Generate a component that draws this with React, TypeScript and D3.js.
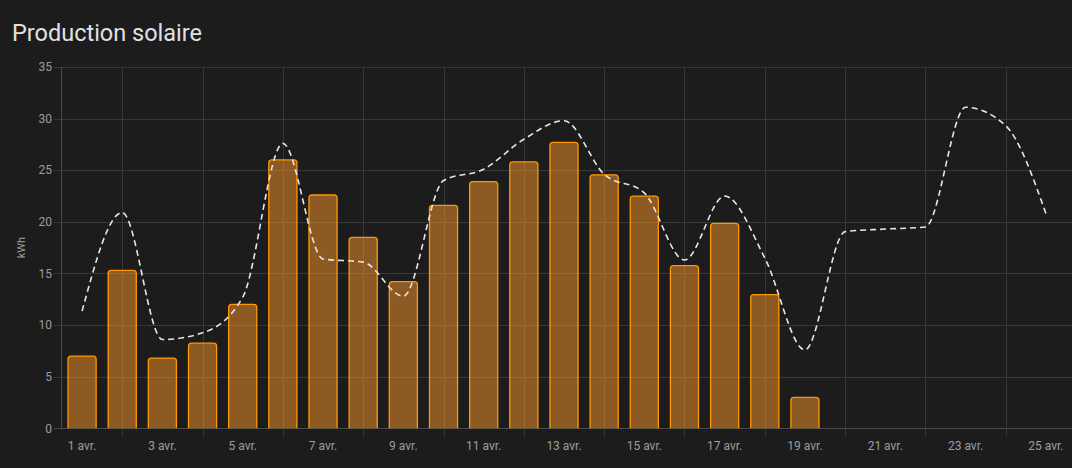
import React, { useEffect, useRef } from "react";
import * as d3 from "d3";

const days: number[] = Array.from({ length: 25 }, (_, i) => i + 1);
const production: number[] = [7.0, 15.3, 6.8, 8.25, 12.0, 26.0, 22.6, 18.5, 14.2, 21.6, 23.9, 25.8, 27.7, 24.55, 22.5, 15.75, 19.85, 12.95, 3.0];
const forecast: number[] = [11.35, 20.9, 8.6, 9.25, 12.7, 27.6, 16.4, 16.1, 12.8, 24.0, 25.1, 28.0, 29.8, 24.6, 22.8, 16.3, 22.5, 16.5, 7.6, 19.05, 19.3, 19.5, 31.1, 29.3, 20.8];
const yTicks: number[] = [0, 5, 10, 15, 20, 25, 30, 35];
const xLabelDays: number[] = [1, 3, 5, 7, 9, 11, 13, 15, 17, 19, 21, 23, 25];
const xGridDays: number[] = [2, 4, 6, 8, 10, 12, 14, 16, 18, 20, 22, 24];
const title = "Production solaire";
const yLabel = "kWh";

const W = 1072;
const H = 468;
const M = { left: 62, right: 1066, top: 67, bottom: 428.3 };

export default function App() {
  const ref = useRef<SVGSVGElement | null>(null);
  useEffect(() => {
    const svg = d3.select(ref.current);
    svg.selectAll("*").remove();
    const font = "Roboto, 'Noto Sans', sans-serif";
    const x = d3.scaleLinear().domain([0.5, 25.5]).range([M.left, M.right]);
    const y = d3.scaleLinear().domain([0, 35]).range([M.bottom, M.top]);
    const step = x(2) - x(1);
    const bw = step * 0.7;

    svg.append("rect").attr("width", W).attr("height", H).attr("fill", "#1c1c1c");

    svg.append("text").attr("x", 12).attr("y", 41).attr("fill", "#e1e1e1")
      .attr("font-family", font).attr("font-size", 23.5).text(title);

    const grid = "#383838";
    // horizontal grid
    svg.append("g").selectAll("line").data(yTicks).join("line")
      .attr("x1", M.left - 8).attr("x2", W).attr("y1", (d) => Math.round(y(d)) + 0.5).attr("y2", (d) => Math.round(y(d)) + 0.5)
      .attr("stroke", (d) => (d === 0 ? "#4a4a4a" : grid)).attr("stroke-width", 1);
    // vertical grid
    svg.append("g").selectAll("line").data(xGridDays).join("line")
      .attr("x1", (d) => Math.round(x(d)) + 0.5).attr("x2", (d) => Math.round(x(d)) + 0.5)
      .attr("y1", M.top).attr("y2", M.bottom + 8)
      .attr("stroke", grid).attr("stroke-width", 1);
    // left axis line
    svg.append("line").attr("x1", M.left - 0.5).attr("x2", M.left - 0.5).attr("y1", M.top).attr("y2", M.bottom)
      .attr("stroke", "#4a4a4a");

    // y tick labels
    svg.append("g").selectAll("text").data(yTicks).join("text")
      .attr("x", 52).attr("y", (d) => y(d) + 4.2).attr("text-anchor", "end")
      .attr("fill", "#9e9e9e").attr("font-family", font).attr("font-size", 12).text((d) => String(d));
    // y label
    svg.append("text").attr("transform", `translate(25,${(M.top + M.bottom) / 2}) rotate(-90)`)
      .attr("text-anchor", "middle").attr("fill", "#9e9e9e").attr("font-family", font).attr("font-size", 11).text(yLabel);
    // x labels
    svg.append("g").selectAll("text").data(xLabelDays).join("text")
      .attr("x", (d) => x(d)).attr("y", 449.5).attr("text-anchor", "middle")
      .attr("fill", "#9e9e9e").attr("font-family", font).attr("font-size", 12).text((d) => `${d} avr.`);

    // bars with rounded top
    const r = 3;
    svg.append("g").selectAll("path").data(production).join("path")
      .attr("d", (v, i) => {
        const cx = x(days[i]);
        const x0 = cx - bw / 2, x1 = cx + bw / 2;
        const yt = y(v), yb = y(0);
        return `M${x0},${yb} L${x0},${yt + r} Q${x0},${yt} ${x0 + r},${yt} L${x1 - r},${yt} Q${x1},${yt} ${x1},${yt + r} L${x1},${yb}`;
      })
      .attr("fill", "rgba(255,152,42,0.5)").attr("stroke", "#ff9800").attr("stroke-width", 1.3);

    // forecast line
    const line = d3.line<number>().x((_, i) => x(days[i])).y((v) => y(v)).curve(d3.curveMonotoneX);
    svg.append("path").attr("d", line(forecast) as string).attr("fill", "none")
      .attr("stroke", "#e6e6e6").attr("stroke-width", 1.6).attr("stroke-dasharray", "6,4");
  }, []);
  return (
    <svg ref={ref} width={W} height={H} style={{ position: "absolute", left: 0, top: 0, display: "block" }} />
  );
}
